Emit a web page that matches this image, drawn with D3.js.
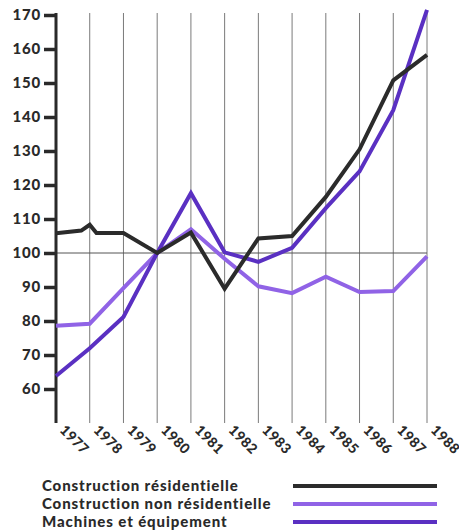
<!DOCTYPE html>
<html>
<head>
<meta charset="utf-8">
<script src="https://cdn.jsdelivr.net/npm/d3@7"></script>
<style>
  body { margin: 0; background: #fff; }
  text { font-family: Lato, "DejaVu Sans", sans-serif; font-weight: 900; fill: #2a2a2a; }
</style>
</head>
<body>
<div id="chart"></div>
<script>
var svgWidth = 459;
var svgHeight = 530;

// data
var years = [1977, 1978, 1979, 1980, 1981, 1982, 1983, 1984, 1985, 1986, 1987, 1988];
var resYears = [1977, 1977.75, 1978, 1978.2, 1979, 1980, 1981, 1982, 1983, 1984, 1985, 1986, 1987, 1988];
var residentielle = [105.8, 106.6, 108.3, 105.9, 105.9, 100, 106, 89.5, 104.3, 105, 116.5, 130.5, 150.8, 158.3];
var nonResidentielle = [78.6, 79.2, 89.7, 100, 107, 98.3, 90.2, 88.2, 93, 88.5, 88.8, 99];
var machines = [63.8, 72, 81.2, 100, 117.6, 100.2, 97.4, 101.5, 113.2, 124, 142, 171.5];
var yTicks = [60, 70, 80, 90, 100, 110, 120, 130, 140, 150, 160, 170];
var seriesNames = ["Construction résidentielle", "Construction non résidentielle", "Machines et équipement"];
var seriesColors = ["#2b2b2b", "#9063e6", "#5a30c2"];

var svg = d3.select("#chart")
  .append("svg")
  .attr("width", svgWidth)
  .attr("height", svgHeight);

var x = d3.scaleLinear()
  .domain([1977, 1988])
  .range([56, 427]);

var y = d3.scaleLinear()
  .domain([50, 170])
  .range([423, 15]);

// vertical grid lines
svg.selectAll(".grid")
  .data(years.slice(1))
  .enter()
  .append("line")
  .attr("x1", d => x(d))
  .attr("x2", d => x(d))
  .attr("y1", 13)
  .attr("y2", 423)
  .attr("stroke", "#7a7a7a")
  .attr("stroke-width", 1);

// 100 reference line
svg.append("line")
  .attr("x1", x(1977))
  .attr("x2", x(1988))
  .attr("y1", y(100))
  .attr("y2", y(100))
  .attr("stroke", "#555")
  .attr("stroke-width", 1);

// y axis
var yAxis = d3.axisLeft(y)
  .tickValues(yTicks)
  .tickSize(12)
  .tickPadding(3);

var yg = svg.append("g")
  .attr("transform", `translate(${x(1977)}, 0)`)
  .call(yAxis);
yg.select(".domain").remove();
yg.selectAll(".tick line")
  .attr("stroke", "#2a2a2a")
  .attr("stroke-width", 3.5);
yg.selectAll(".tick text")
  .style("font-size", "15px")
  .style("letter-spacing", "0.8px")
  .attr("fill", "#2a2a2a");

svg.append("line")
  .attr("x1", x(1977))
  .attr("x2", x(1977))
  .attr("y1", 13)
  .attr("y2", 423)
  .attr("stroke", "#2a2a2a")
  .attr("stroke-width", 3);

// x labels
svg.selectAll(".xlabel")
  .data(years)
  .enter()
  .append("text")
  .attr("class", "xlabel")
  .attr("transform", d => `translate(${x(d) + 3}, 431) rotate(45)`)
  .style("font-size", "14px")
  .style("letter-spacing", "0.4px")
  .text(d => d);

// lines
var line = d3.line()
  .x(d => x(d[0]))
  .y(d => y(d[1]))
  .curve(d3.curveLinear);

var seriesData = [
  d3.zip(resYears, residentielle),
  d3.zip(years, nonResidentielle),
  d3.zip(years, machines)
];

[1, 2, 0].forEach(i => {
  svg.append("path")
    .datum(seriesData[i])
    .attr("d", line)
    .attr("fill", "none")
    .attr("stroke", seriesColors[i])
    .attr("stroke-width", 4)
    .attr("stroke-linejoin", "miter");
});

// legend
var legend = svg.selectAll(".legend")
  .data(seriesNames)
  .enter()
  .append("g")
  .attr("transform", (d, i) => `translate(0, ${486 + i * 18})`);

legend.append("text")
  .attr("x", 42)
  .attr("y", 5)
  .style("font-size", "15px")
  .style("letter-spacing", "0.9px")
  .text(d => d);

legend.append("line")
  .attr("x1", 293)
  .attr("x2", 437)
  .attr("y1", 0)
  .attr("y2", 0)
  .attr("stroke", (d, i) => seriesColors[i])
  .attr("stroke-width", 4);
</script>
</body>
</html>
